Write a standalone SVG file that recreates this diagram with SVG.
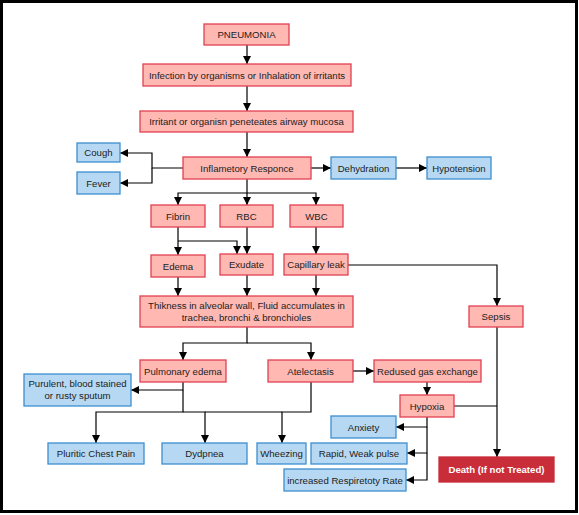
<svg xmlns="http://www.w3.org/2000/svg" width="579" height="515" viewBox="0 0 579 515">
<style>
.r rect{fill:#ffb8b2;stroke:#e04050;stroke-width:1.3}
.b rect{fill:#b6d8f2;stroke:#3d8fd0;stroke-width:1.3}
.d rect{fill:#c92d39;stroke:#c92d39;stroke-width:1.3}
text{font-family:"Liberation Sans",Arial,sans-serif;font-size:9.6px;fill:#222;text-anchor:middle;dominant-baseline:central}
.d text{fill:#fff;font-weight:bold}
#connectors path{fill:none;stroke:#000;stroke-width:1.2}
#connectors path.n{marker-end:none}
</style>
<defs>
<marker id="a" viewBox="0 0 10 10" refX="10" refY="5" markerWidth="8" markerHeight="8" markerUnits="userSpaceOnUse" orient="auto">
<path d="M0,0 L10,5 L0,10 z" fill="#000"/>
</marker>
</defs>
<rect x="1.5" y="1.5" width="575" height="510" fill="#fff" stroke="#000" stroke-width="3"/>
<g id="connectors">
<path d="M247,45 V64" marker-end="url(#a)"/>
<path d="M247,86 V111" marker-end="url(#a)"/>
<path d="M247,132 V157" marker-end="url(#a)"/>
<path d="M183,168 H152 V153 H120" marker-end="url(#a)"/>
<path d="M152,168 V183 H120" marker-end="url(#a)"/>
<path d="M311,168 H331" marker-end="url(#a)"/>
<path d="M396,168 H427" marker-end="url(#a)"/>
<path d="M247,179 V205" marker-end="url(#a)"/>
<path d="M247,193 H178 V205" marker-end="url(#a)"/>
<path d="M247,193 H316 V205" marker-end="url(#a)"/>
<path d="M178,227 V255" marker-end="url(#a)"/>
<path d="M178,241 H237 V254" marker-end="url(#a)"/>
<path d="M247,227 V254" marker-end="url(#a)"/>
<path d="M316,227 V254" marker-end="url(#a)"/>
<path d="M178,277 V296" marker-end="url(#a)"/>
<path d="M247,275 V296" marker-end="url(#a)"/>
<path d="M316,275 V296" marker-end="url(#a)"/>
<path d="M348,265 H497 V306" marker-end="url(#a)"/>
<path d="M247,327 V343 H183 V360" marker-end="url(#a)"/>
<path d="M247,343 H311 V360" marker-end="url(#a)"/>
<path d="M183,382 V390 H131" marker-end="url(#a)"/>
<path d="M183,390 V412 H96 V443" marker-end="url(#a)"/>
<path d="M183,412 H205 V443" marker-end="url(#a)"/>
<path d="M311,382 V412 H282 V443" marker-end="url(#a)"/>
<path d="M205,412 H282"/>
<path d="M353,371 H374" marker-end="url(#a)"/>
<path d="M427,382 V395" marker-end="url(#a)"/>
<path d="M454,406 H497"/>
<path d="M497,327 V457" marker-end="url(#a)"/>
<path d="M427,417 V427 H396" marker-end="url(#a)"/>
<path d="M427,427 V453 H407" marker-end="url(#a)"/>
<path d="M427,453 V480 H406" marker-end="url(#a)"/>
</g>
<g id="pneumonia" class="r"><rect x="204" y="24" width="85" height="21"/><text x="246.5" y="34.5">PNEUMONIA</text></g>
<g id="infection" class="r"><rect x="143" y="64" width="208" height="22"/><text x="247" y="75">Infection by organisms or Inhalation of irritants</text></g>
<g id="irritant" class="r"><rect x="140" y="111" width="213" height="21"/><text x="246.5" y="121.5">Irritant or organisn peneteates airway mucosa</text></g>
<g id="cough" class="b"><rect x="77" y="143" width="43" height="19"/><text x="98.5" y="152.5">Cough</text></g>
<g id="fever" class="b"><rect x="77" y="172" width="43" height="22"/><text x="98.5" y="183">Fever</text></g>
<g id="inflam" class="r"><rect x="183" y="157" width="128" height="22"/><text x="247" y="168">Inflametory Responce</text></g>
<g id="dehydration" class="b"><rect x="331" y="157" width="65" height="22"/><text x="363.5" y="168">Dehydration</text></g>
<g id="hypotension" class="b"><rect x="427" y="157" width="64" height="22"/><text x="459" y="168">Hypotension</text></g>
<g id="fibrin" class="r"><rect x="151" y="205" width="54" height="22"/><text x="178" y="216">Fibrin</text></g>
<g id="rbc" class="r"><rect x="220" y="205" width="53" height="22"/><text x="246.5" y="216">RBC</text></g>
<g id="wbc" class="r"><rect x="290" y="205" width="53" height="22"/><text x="316.5" y="216">WBC</text></g>
<g id="edema" class="r"><rect x="151" y="255" width="54" height="22"/><text x="178" y="266">Edema</text></g>
<g id="exudate" class="r"><rect x="220" y="254" width="53" height="21"/><text x="246.5" y="264.5">Exudate</text></g>
<g id="capillary" class="r"><rect x="284" y="254" width="64" height="21"/><text x="316" y="264.5">Capillary leak</text></g>
<g id="thikness" class="r"><rect x="140" y="296" width="213" height="31"/><text x="246.5" y="305">Thikness in alveolar wall, Fluid accumulates in</text><text x="246.5" y="317">trachea, bronchi &amp; bronchioles</text></g>
<g id="sepsis" class="r"><rect x="469" y="306" width="54" height="21"/><text x="496" y="316.5">Sepsis</text></g>
<g id="pulmonary" class="r"><rect x="140" y="360" width="86" height="22"/><text x="183" y="371">Pulmonary edema</text></g>
<g id="atelectasis" class="r"><rect x="268" y="360" width="85" height="22"/><text x="310.5" y="371">Atelectasis</text></g>
<g id="redused" class="r"><rect x="374" y="360" width="107" height="22"/><text x="427.5" y="371">Redused gas exchange</text></g>
<g id="hypoxia" class="r"><rect x="400" y="395" width="54" height="22"/><text x="427" y="406">Hypoxia</text></g>
<g id="purulent" class="b"><rect x="24" y="374" width="107" height="32"/><text x="77.5" y="383">Purulent, blood stained</text><text x="77.5" y="395">or rusty sputum</text></g>
<g id="anxiety" class="b"><rect x="331" y="416" width="65" height="22"/><text x="363.5" y="427">Anxiety</text></g>
<g id="pluritic" class="b"><rect x="48" y="443" width="96" height="21"/><text x="96" y="453.5">Pluritic Chest Pain</text></g>
<g id="dydpnea" class="b"><rect x="162" y="443" width="85" height="21"/><text x="204.5" y="453.5">Dydpnea</text></g>
<g id="wheezing" class="b"><rect x="257" y="443" width="49" height="21"/><text x="281.5" y="453.5">Wheezing</text></g>
<g id="rapid" class="b"><rect x="311" y="443" width="96" height="21"/><text x="359" y="453.5">Rapid, Weak pulse</text></g>
<g id="increased" class="b"><rect x="284" y="469" width="122" height="22"/><text x="345" y="480">increased Respiretoty Rate</text></g>
<g id="death" class="d"><rect x="439" y="457" width="115" height="25"/><text x="496.5" y="469.5">Death (If not Treated)</text></g>
</svg>
